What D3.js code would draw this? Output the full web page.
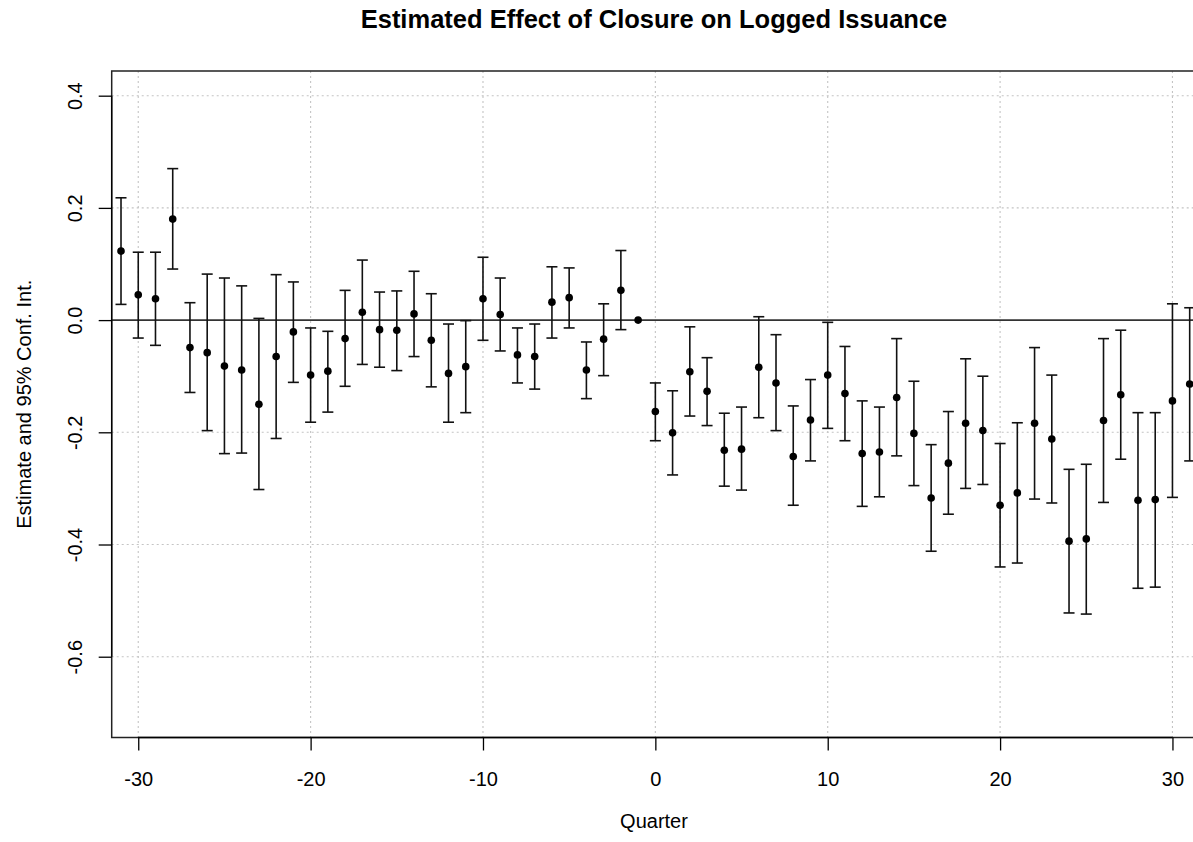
<!DOCTYPE html>
<html>
<head>
<meta charset="utf-8">
<script src="https://cdn.jsdelivr.net/npm/d3@7"></script>
<style>
  body { margin: 0; background: #fff; }
  svg { display: block; font-family: "Liberation Sans", Arial, sans-serif; }
</style>
</head>
<body>
<div id="chart"></div>
<script>
// quarters relative to closure
var quarters = [-31,-30,-29,-28,-27,-26,-25,-24,-23,-22,-21,-20,-19,-18,-17,-16,-15,-14,-13,-12,-11,-10,-9,-8,-7,-6,-5,-4,-3,-2,-1,
                0,1,2,3,4,5,6,7,8,9,10,11,12,13,14,15,16,17,18,19,20,21,22,23,24,25,26,27,28,29,30,31];
var estimate = [0.123,0.045,0.038,0.180,-0.049,-0.058,-0.082,-0.089,-0.150,-0.065,-0.021,-0.098,-0.091,-0.033,0.014,-0.017,-0.018,0.011,-0.036,-0.095,-0.083,0.038,0.010,-0.062,-0.065,0.032,0.040,-0.089,-0.034,0.053,0,
                -0.163,-0.201,-0.092,-0.127,-0.232,-0.230,-0.084,-0.112,-0.243,-0.178,-0.098,-0.131,-0.238,-0.235,-0.138,-0.202,-0.317,-0.255,-0.184,-0.197,-0.330,-0.308,-0.184,-0.212,-0.394,-0.390,-0.179,-0.133,-0.321,-0.320,-0.144,-0.114];
var lower = [0.028,-0.032,-0.045,0.091,-0.129,-0.197,-0.238,-0.237,-0.302,-0.211,-0.111,-0.182,-0.164,-0.118,-0.079,-0.084,-0.090,-0.065,-0.119,-0.182,-0.165,-0.036,-0.055,-0.112,-0.123,-0.032,-0.014,-0.140,-0.099,-0.017,null,
             -0.215,-0.276,-0.171,-0.188,-0.296,-0.303,-0.174,-0.197,-0.330,-0.251,-0.193,-0.215,-0.332,-0.315,-0.242,-0.295,-0.412,-0.346,-0.300,-0.293,-0.440,-0.433,-0.319,-0.326,-0.522,-0.524,-0.325,-0.248,-0.478,-0.476,-0.316,-0.251];
var upper = [0.218,0.121,0.121,0.270,0.031,0.082,0.075,0.061,0.003,0.081,0.068,-0.014,-0.020,0.053,0.107,0.050,0.052,0.087,0.047,-0.007,-0.001,0.112,0.075,-0.014,-0.007,0.095,0.093,-0.039,0.029,0.124,null,
             -0.112,-0.126,-0.012,-0.067,-0.166,-0.155,0.006,-0.026,-0.153,-0.106,-0.004,-0.047,-0.144,-0.155,-0.033,-0.109,-0.222,-0.163,-0.069,-0.100,-0.220,-0.183,-0.049,-0.098,-0.266,-0.257,-0.033,-0.018,-0.165,-0.165,0.029,0.022];
var xTicks = [-30,-20,-10,0,10,20,30];
var yTicks = [-0.6,-0.4,-0.2,0.0,0.2,0.4];

var data = quarters.map(function(q, i) {
    return {q: q, est: estimate[i], lo: lower[i], hi: upper[i]};
});

const WIDTH = 1193, HEIGHT = 842;
const pLeft = 111.7, pTop = 71, pRight = 1199, pBottom = 737.5;

var svg = d3.select("#chart").append("svg")
    .attr("width", WIDTH)
    .attr("height", HEIGHT);

var x = d3.scaleLinear().domain([-31.54, 31.54]).range([pLeft, pRight]);
var y = d3.scaleLinear().domain([-0.7 - 0.044, 0.4 + 0.044]).range([pBottom, pTop]);

// hyphen instead of unicode minus, like R
function hyphen(fmt) {
    var f = d3.format(fmt);
    return function(d) { return f(d).replace("\u2212", "-"); };
}

// grid
var grid = svg.append("g").attr("stroke", "#c4c4c4").attr("stroke-width", 1.1).attr("stroke-dasharray", "2,3");
grid.selectAll("line.gx").data(xTicks).enter().append("line")
    .attr("x1", d => x(d)).attr("x2", d => x(d)).attr("y1", pTop).attr("y2", pBottom);
grid.selectAll("line.gy").data(yTicks.filter(d => d !== 0)).enter().append("line")
    .attr("x1", pLeft).attr("x2", pRight).attr("y1", d => y(d)).attr("y2", d => y(d));

// zero line
svg.append("line")
    .attr("x1", pLeft).attr("x2", pRight).attr("y1", y(0)).attr("y2", y(0))
    .attr("stroke", "#333").attr("stroke-width", 1.8);

// frame
svg.append("rect")
    .attr("x", pLeft).attr("y", pTop).attr("width", pRight - pLeft).attr("height", pBottom - pTop)
    .attr("fill", "none").attr("stroke", "#222").attr("stroke-width", 1.5);

// axes
var xAxis = svg.append("g").attr("transform", "translate(0," + pBottom + ")")
    .call(d3.axisBottom(x).tickValues(xTicks).tickSize(13).tickPadding(21).tickFormat(hyphen("d")));
var yAxis = svg.append("g").attr("transform", "translate(" + pLeft + ",0)")
    .call(d3.axisLeft(y).tickValues(yTicks).tickSize(13).tickFormat(hyphen(".1f")));
[xAxis, yAxis].forEach(function(a) {
    a.select(".domain").remove();
    a.selectAll(".tick line").attr("stroke", "#000").attr("stroke-width", 1.3);
    a.selectAll("text").attr("font-size", 20).attr("fill", "#000")
        .attr("font-family", "Liberation Sans, Arial, sans-serif");
});
xAxis.selectAll("text").attr("dy", "0.71em");
yAxis.selectAll("text")
    .attr("text-anchor", "middle")
    .attr("transform", "rotate(-90)")
    .attr("x", 0).attr("y", -30).attr("dy", 0);
// axis lines span first to last tick
svg.append("line").attr("x1", x(xTicks[0])).attr("x2", x(xTicks[xTicks.length - 1]))
    .attr("y1", pBottom).attr("y2", pBottom).attr("stroke", "#000").attr("stroke-width", 1.3);
svg.append("line").attr("x1", pLeft).attr("x2", pLeft)
    .attr("y1", y(yTicks[0])).attr("y2", y(yTicks[yTicks.length - 1])).attr("stroke", "#000").attr("stroke-width", 1.3);

// error bars
var ci = data.filter(d => d.lo !== null);
var bars = svg.append("g").attr("stroke", "#111").attr("stroke-width", 1.6);
bars.selectAll("line.v").data(ci).enter().append("line")
    .attr("x1", d => x(d.q)).attr("x2", d => x(d.q)).attr("y1", d => y(d.lo)).attr("y2", d => y(d.hi));
bars.selectAll("line.lo").data(ci).enter().append("line")
    .attr("x1", d => x(d.q) - 5.5).attr("x2", d => x(d.q) + 5.5).attr("y1", d => y(d.lo)).attr("y2", d => y(d.lo));
bars.selectAll("line.hi").data(ci).enter().append("line")
    .attr("x1", d => x(d.q) - 5.5).attr("x2", d => x(d.q) + 5.5).attr("y1", d => y(d.hi)).attr("y2", d => y(d.hi));

// point estimates
svg.append("g").selectAll("circle").data(data).enter().append("circle")
    .attr("cx", d => x(d.q)).attr("cy", d => y(d.est)).attr("r", 3.8).attr("fill", "#000");

// titles
svg.append("text").attr("x", 654).attr("y", 28).attr("text-anchor", "middle")
    .attr("font-size", 25.5).attr("font-weight", "bold").text("Estimated Effect of Closure on Logged Issuance");
svg.append("text").attr("x", 654).attr("y", 828).attr("text-anchor", "middle")
    .attr("font-size", 20).text("Quarter");
svg.append("text").attr("transform", "translate(31," + ((pTop + pBottom) / 2) + ") rotate(-90)")
    .attr("text-anchor", "middle").attr("font-size", 20).text("Estimate and 95% Conf. Int.");
</script>
</body>
</html>
